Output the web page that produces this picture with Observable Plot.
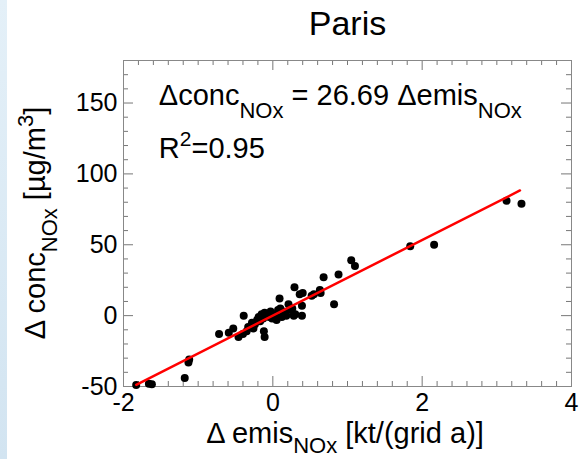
<!DOCTYPE html>
<html><head><meta charset="utf-8">
<script src="https://cdn.jsdelivr.net/npm/d3@7"></script>
<script src="https://cdn.jsdelivr.net/npm/@observablehq/plot@0.6"></script>
<style>
html,body{margin:0;padding:0;background:#fff;}
body{width:579px;height:459px;overflow:hidden;position:relative;font-family:"Liberation Sans",Arial,sans-serif;}
#strip{position:absolute;left:0;top:0;width:7px;height:459px;background:linear-gradient(#e4f0f8,#d2e4f1);}
#chart{position:absolute;left:0;top:0;}
</style></head><body><div id="strip"></div><div id="chart"></div>
<script>
// Δ emissions NOx (kt/(grid a)) and Δ concentration NOx (µg/m3)
const emis = [-1.83,-1.66,-1.62,-1.18,-1.13,-1.12,-0.72,-0.59,-0.53,-0.46,-0.40,-0.39,-0.35,-0.33,-0.28,-0.26,-0.24,-0.21,-0.19,-0.17,-0.15,-0.13,-0.12,-0.11,-0.11,-0.08,-0.05,-0.03,-0.01,0.01,0.03,0.05,0.07,0.09,0.10,0.12,0.14,0.16,0.18,0.21,0.24,0.26,0.28,0.29,0.30,0.36,0.39,0.39,0.40,0.52,0.55,0.63,0.64,0.68,0.82,0.88,1.05,1.10,1.84,2.16,3.13,3.33];
const conc = [-49,-48,-48.5,-44,-33,-31,-13,-12,-9,-15,-13,0,-11,-8,-5,-9,-6,-3,-1,-4,1,-2,-11,-15,2,0,-1,3,-2,0,1,-3,4,12,5,-1,3,2,0,8,4,5,0,20,1,15,7,0,16,14,15,18,16,27,8,29,39,35,49,50,81,79];
// regression line end points
const fitEmis = [-1.83, 3.31];
const fitConc = [-48.8, 88.3];
// axes
const xTicks = [-2, 0, 2, 4];
const yTicks = [-50, 0, 50, 100, 150];
const xMinor = [-1.8,-1.6,-1.4,-1.2,-1,-0.8,-0.6,-0.4,-0.2,0.2,0.4,0.6,0.8,1,1.2,1.4,1.6,1.8,2.2,2.4,2.6,2.8,3,3.2,3.4,3.6,3.8];
const yMinor = [-40,-30,-20,-10,10,20,30,40,60,70,80,90,110,120,130,140,160,170];
const xDomain = [-2, 4];
const yDomain = [-50, 180];
const titleText = "Paris";
const slopeText = "26.69";
const r2Text = "0.95";

const points = emis.map((e, i) => ({e, c: conc[i]}));
const fit = fitEmis.map((e, i) => ({e, c: fitConc[i]}));

// tick lengths in data units (major ~10px, minor ~5px)
const xu = (xDomain[1] - xDomain[0]) / 448, yu = (yDomain[1] - yDomain[0]) / 326;
const tickCol = "#777";
const xt = (vals, len) => [
  Plot.ruleX(vals, {x: d => d, y1: () => yDomain[0], y2: () => yDomain[0] + len * yu, stroke: tickCol}),
  Plot.ruleX(vals, {x: d => d, y1: () => yDomain[1], y2: () => yDomain[1] - len * yu, stroke: tickCol})
];
const yt = (vals, len) => [
  Plot.ruleY(vals, {y: d => d, x1: () => xDomain[0], x2: () => xDomain[0] + len * xu, stroke: tickCol}),
  Plot.ruleY(vals, {y: d => d, x1: () => xDomain[1], x2: () => xDomain[1] - len * xu, stroke: tickCol})
];

const plot = Plot.plot({
  width: 579, height: 459,
  marginLeft: 123, marginRight: 8, marginTop: 60, marginBottom: 73,
  style: {fontFamily: '"Liberation Sans", Arial, sans-serif', fontSize: "25px", background: "transparent", color: "#000"},
  x: {domain: xDomain},
  y: {domain: yDomain},
  marks: [
    Plot.axisX({ticks: xTicks, tickSize: 0, tickPadding: 7, label: null, fontSize: 25, tickFormat: d => d < 0 ? "-" + Math.abs(d) : String(d)}),
    Plot.axisY({ticks: yTicks, tickSize: 0, tickPadding: 6, label: null, fontSize: 25, tickFormat: d => d < 0 ? "-" + Math.abs(d) : String(d)}),
    ...xt(xTicks, 10), ...xt(xMinor, 5),
    ...yt(yTicks, 10), ...yt(yMinor, 5),
    Plot.frame({stroke: "#888"}),
    Plot.dot(points, {x: "e", y: "c", r: 4, fill: "#000", stroke: "none"}),
    Plot.line(fit, {x: "e", y: "c", stroke: "#ff0000", strokeWidth: 2.5}),
    Plot.text([titleText], {frameAnchor: "top", text: d => d, dy: -26, lineAnchor: "bottom", fontSize: 34, fill: "#000"})
  ]
});
document.getElementById("chart").appendChild(plot);

const svg = d3.select(plot);
const sx = plot.scale("x"), sy = plot.scale("y");
function rich(x, y, parts, size, subSize, opts = {}) {
  const t = svg.append("text")
    .attr("x", x).attr("y", y)
    .attr("font-size", size)
    .attr("fill", "#000")
    .attr("text-anchor", opts.anchor || "start")
    .attr("font-family", '"Liberation Sans", Arial, sans-serif');
  if (opts.rotate) t.attr("transform", `rotate(${opts.rotate},${x},${y})`);
  const drop = opts.drop || 0.42;
  let shift = 0;
  for (const p of parts) {
    let target = 0, fs = size;
    if (p.sub) { target = size * drop; fs = subSize; }
    if (p.sup) { target = -size * 0.42; fs = subSize; }
    t.append("tspan").attr("dy", target - shift).attr("font-size", fs).text(p.t);
    shift = target;
  }
  return t;
}
// annotation
rich(sx.apply(-1.52), sy.apply(148), [{t: "\u0394conc"}, {t: "NOx", sub: true}, {t: " = " + slopeText + " \u0394emis"}, {t: "NOx", sub: true}], 29, 22);
rich(sx.apply(-1.52), sy.apply(111), [{t: "R"}, {t: "2", sup: true}, {t: "=" + r2Text}], 29, 21);
// axis titles
rich(345, 443, [{t: "\u0394 emis"}, {t: "NOx", sub: true}, {t: " [kt/(grid a)]"}], 29, 22, {anchor: "middle", drop: 0.34});
rich(45, 223, [{t: "\u0394 conc"}, {t: "NOx", sub: true}, {t: " [\u00b5g/m"}, {t: "3", sup: true}, {t: "]"}], 29, 22, {anchor: "middle", rotate: -90});
</script>
</body></html>
